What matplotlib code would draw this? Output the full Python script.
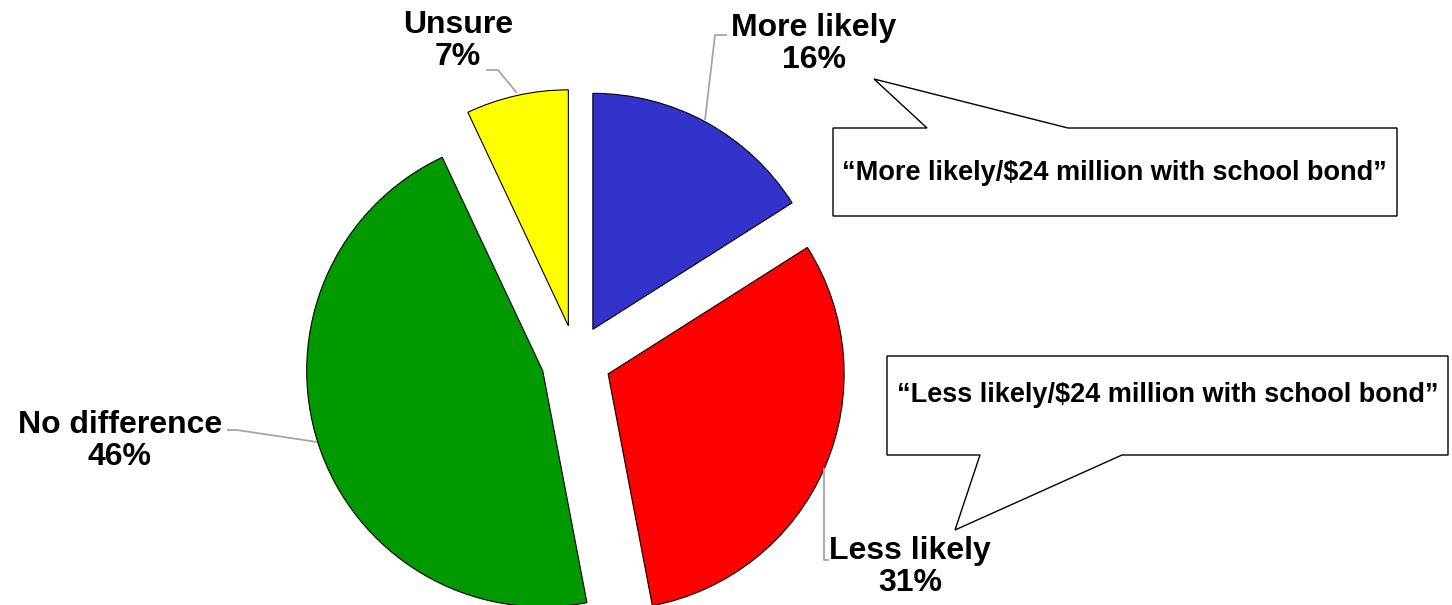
import numpy as np
import matplotlib.pyplot as plt
from matplotlib.patches import Polygon

plt.rcParams['font.family'] = ['Liberation Sans', 'DejaVu Sans']

# Datos del gráfico
categorias = ['More likely', 'Less likely', 'No difference', 'Unsure']
porcentajes = [16, 31, 46, 7]
colores = ['#3333CC', '#FF0000', '#009900', '#FFFF00']
notas = ['\u201cMore likely/$24 million with school bond\u201d',
         '\u201cLess likely/$24 million with school bond\u201d']

W, H = 1452, 605


def fy(y):
    # coordenada de píxel (desde arriba) -> eje y hacia arriba
    return H - y


fig = plt.figure(figsize=(W / 100, H / 100), dpi=100)
ax = fig.add_axes([0, 0, 1, 1])

ax.pie(porcentajes, colors=colores, startangle=90, counterclock=False,
       radius=236, center=(576, fy(360)), explode=[35] * len(porcentajes),
       wedgeprops=dict(edgecolor='black', linewidth=0.8))

ax.set_xlim(0, W)
ax.set_ylim(0, H)
ax.set_aspect('equal')
ax.axis('off')

# Etiquetas con líneas guía
etiquetas = [
    (814, 44, [(727, 35), (715, 35), (705, 120)]),
    (910, 567, [(824, 468), (824, 560), (829, 560)]),
    (120, 441, [(227, 430), (237, 430), (317, 442)]),
    (458, 41, [(486, 70), (498, 70), (517, 93)]),
]
for (x, y, guia), cat, pct in zip(etiquetas, categorias, porcentajes):
    gx = [p[0] for p in guia]
    gy = [fy(p[1]) for p in guia]
    ax.plot(gx, gy, color='#A6A6A6', lw=1.3, solid_capstyle='butt')
    ax.text(x, fy(y), f'{cat}\n{pct}%', ha='center', va='center',
            fontsize=23, fontweight='bold', linespacing=1.1)

# Globos de texto
globos = [
    [(833, 128), (927, 128), (874, 79), (1068, 128), (1397, 128),
     (1397, 216), (833, 216)],
    [(887, 356), (1448, 356), (1448, 455), (1122, 455), (955, 530),
     (980, 455), (887, 455)],
]
centros = [(1114, 173), (1168, 395)]
for pts, (cx, cy), nota in zip(globos, centros, notas):
    poly = Polygon([(p[0], fy(p[1])) for p in pts], closed=True,
                   facecolor='white', edgecolor='black', lw=1.0)
    ax.add_patch(poly)
    ax.text(cx, fy(cy), nota, ha='center', va='center',
            fontsize=19.5, fontweight='bold')

fig.savefig('out.png', dpi=100)
